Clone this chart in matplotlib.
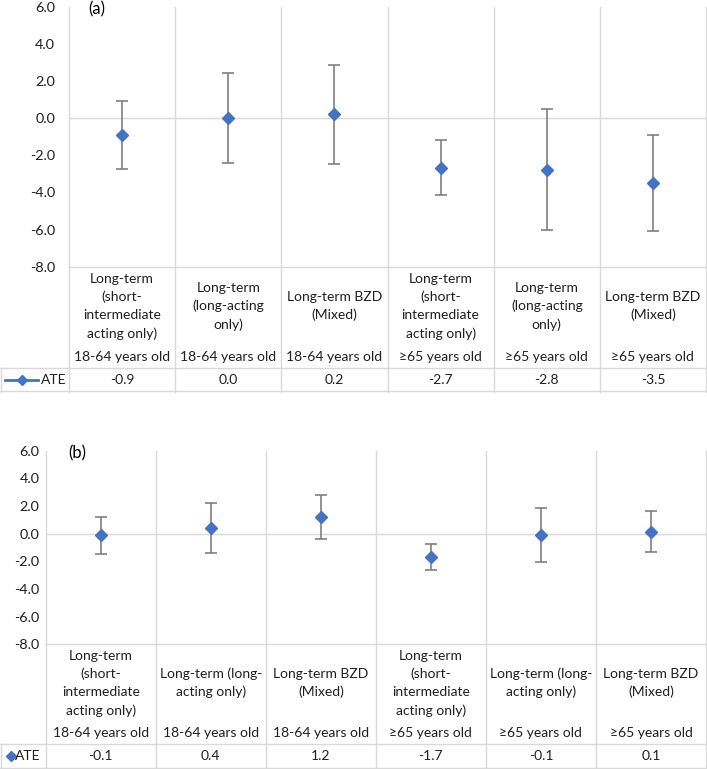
import numpy as np
import matplotlib
matplotlib.use('Agg')
import matplotlib.pyplot as plt
from matplotlib.transforms import blended_transform_factory
from matplotlib.lines import Line2D

plt.rcParams['font.family'] = ['Lato', 'DejaVu Sans']

# ---------------- data ----------------
age_labels = ['18-64 years old', '18-64 years old', '18-64 years old',
              '≥65 years old', '≥65 years old', '≥65 years old']
cat_a = ['Long-term\n(short-\nintermediate\nacting only)',
         'Long-term\n(long-acting\nonly)',
         'Long-term BZD\n(Mixed)',
         'Long-term\n(short-\nintermediate\nacting only)',
         'Long-term\n(long-acting\nonly)',
         'Long-term BZD\n(Mixed)']
cat_b = ['Long-term\n(short-\nintermediate\nacting only)',
         'Long-term (long-\nacting only)',
         'Long-term BZD\n(Mixed)',
         'Long-term\n(short-\nintermediate\nacting only)',
         'Long-term (long-\nacting only)',
         'Long-term BZD\n(Mixed)']
ate_a = [-0.9, 0.0, 0.2, -2.7, -2.8, -3.5]
lo_a = [-2.73, -2.44, -2.46, -4.14, -6.01, -6.06]
hi_a = [0.93, 2.44, 2.83, -1.17, 0.50, -0.93]
ate_b = [-0.1, 0.4, 1.2, -1.7, -0.1, 0.1]
lo_b = [-1.47, -1.40, -0.41, -2.63, -2.07, -1.33]
hi_b = [1.23, 2.19, 2.80, -0.72, 1.83, 1.66]
yticks = [6.0, 4.0, 2.0, 0.0, -2.0, -4.0, -6.0, -8.0]
series_name = 'ATE'
panel_labels = ['(a)', '(b)']

# ---------------- style ----------------
W, H, DPI = 707, 769, 100
BLUE = '#4472C4'
GRID = '#d9d9d9'
ERR = '#7f7f7f'
TXT = '#1f1f1f'
FS = 10.0
PITCH = 18.3  # px between text lines

fig = plt.figure(figsize=(W / DPI, H / DPI), dpi=DPI)
fig.patch.set_facecolor('white')


def fy(y):
    return 1 - y / H


def fx(x):
    return x / W


def panel(geom, cats, ate, lo, hi, plabel, legend_with_line, tick_pad, cat_c, age_c):
    l, r, top, bot, catb, legb = geom
    ax = fig.add_axes([fx(l), fy(bot), (r - l) / W, (bot - top) / H])
    ax.set_xlim(0, len(ate))
    ax.set_ylim(-8, 6)
    for s in ax.spines.values():
        s.set_visible(False)
    ax.set_xticks([])
    ax.set_yticks(yticks)
    ax.set_yticklabels([f'{v:.1f}' for v in yticks], fontsize=FS + 0.4, color=TXT)
    ax.tick_params(axis='y', length=0, pad=tick_pad)
    ax.patch.set_alpha(0)

    ax.axhline(0, color=GRID, lw=1.0, zorder=1)
    ax.axhline(-8, color=GRID, lw=1.0, zorder=1, clip_on=False)

    x = np.arange(len(ate)) + 0.5
    ate = np.array(ate)
    lo = np.array(lo)
    hi = np.array(hi)
    ax.errorbar(x, ate, yerr=[ate - lo, hi - ate], fmt='none', ecolor=ERR,
                elinewidth=1.2, capsize=4.2, capthick=1.2, zorder=2)
    ax.plot(x, ate, ls='none', marker='D', ms=6.6, color=BLUE, mec=BLUE, zorder=3)

    tr = blended_transform_factory(ax.transData, fig.transFigure)
    for i in range(len(ate) + 1):
        ax.plot([i, i], [fy(top), fy(legb)], transform=tr, color=GRID, lw=1.0,
                clip_on=False, zorder=1)

    # table horizontal borders
    for yy in (catb, legb - 0.5):
        fig.add_artist(Line2D([0, fx(r)], [fy(yy), fy(yy)], color=GRID, lw=1.0))
    fig.add_artist(Line2D([fx(0.5), fx(0.5)], [fy(catb), fy(legb)], color=GRID, lw=1.0))

    # category labels
    for i, (c, a, v) in enumerate(zip(cats, age_labels, ate)):
        lines = c.split('\n')
        n = len(lines)
        for k, t in enumerate(lines):
            yy = cat_c + (k - (n - 1) / 2) * PITCH
            ax.text(i + 0.5, fy(yy), t, transform=tr, ha='center', va='center',
                    fontsize=FS, color=TXT, clip_on=False)
        ax.text(i + 0.5, fy(age_c), a, transform=tr, ha='center', va='center',
                fontsize=FS, color=TXT, clip_on=False)
        ax.text(i + 0.5, fy((catb + legb) / 2), f'{v:.1f}', transform=tr,
                ha='center', va='center', fontsize=FS, color=TXT, clip_on=False)

    # legend key
    ly = fy((catb + legb) / 2)
    if legend_with_line:
        fig.add_artist(Line2D([fx(5), fx(38)], [ly, ly], color=BLUE, lw=2.0))
        fig.add_artist(Line2D([fx(21.5)], [ly], marker='D', ms=5.2, color=BLUE, ls='none'))
        fig.text(fx(41), ly, series_name, ha='left', va='center', fontsize=FS, color=TXT)
    else:
        fig.add_artist(Line2D([fx(10.5)], [ly], marker='D', ms=5.2, color=BLUE, ls='none'))
        fig.text(fx(15), ly, series_name, ha='left', va='center', fontsize=FS, color=TXT)

    fig.text(fx(l + 19 if legend_with_line else l + 23), fy(top + 3), plabel,
             ha='left', va='center', fontsize=12, color='black')
    return ax


panel((69, 706, 6.6, 266.7, 367.7, 391.7), cat_a, ate_a, lo_a, hi_a,
      panel_labels[0], True, 10, 306.0, 357.0)
panel((45.7, 706, 450.7, 644.3, 744.3, 768.3), cat_b, ate_b, lo_b, hi_b,
      panel_labels[1], False, 4.3, 683.0, 732.7)

fig.savefig('out.png', dpi=DPI, facecolor='white')
